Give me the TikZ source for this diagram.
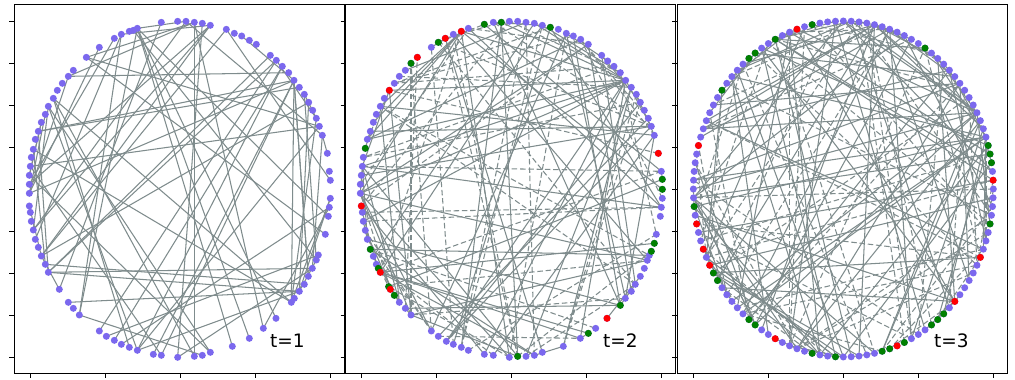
\documentclass[tikz,border=0pt]{standalone}
\usepackage{fontspec}
\setmainfont{DejaVu Sans}
\definecolor{nodeP}{RGB}{123,104,238}
\definecolor{nodeG}{RGB}{0,128,0}
\definecolor{nodeR}{RGB}{255,0,0}
\definecolor{edgec}{RGB}{127,140,141}
\tikzset{
  edgeS/.style={draw=edgec, line width=1.05pt},
  edgeD/.style={draw=edgec, line width=1.05pt, dash pattern=on 5.5pt off 2.8pt},
  dotP/.style={fill=nodeP},
  dotG/.style={fill=nodeG},
  dotR/.style={fill=nodeR},
  axframe/.style={draw=black, line width=0.9pt},
  axtick/.style={draw=black, line width=0.9pt},
  tlabel/.style={font=\fontsize{18.5}{22}\selectfont, anchor=base west, inner sep=0pt}
}
\begin{document}
\begin{tikzpicture}[x=1pt,y=-1pt]
\useasboundingbox (0,0) rectangle (1015,380);
\fill[white] (0,0) rectangle (1015,380);

% ---------- axes frames and ticks ----------
\foreach \k in {0,1,2}{
  \pgfmathsetmacro{\lx}{14+331.5*\k}
  \pgfmathsetmacro{\cx}{180+331.6*\k}
  \draw[axframe] (\lx,4) rectangle ({\lx+330},373);
  \foreach \j in {-4,...,4}{
    \draw[axtick] ({\lx-5},{189+42*\j}) -- (\lx,{189+42*\j});
  }
  \foreach \j in {-2,...,2}{
    \draw[axtick] ({\cx+75*\j},373) -- ({\cx+75*\j},378);
  }
}

% ---------- panel 1 ----------
\begin{scope}[x=0.33333pt,y=-0.33333pt]
\foreach \px/\py [count=\i] in {484/67,533/64,558/64,583/67,607/70,631/76,679/88,703/100,725/108,748/121,769/133,811/166,829/181,847/199,866/218,882/241,898/262,913/283,926/307,938/331,949/355,958/379,967/406,982/460,988/514,991/541,991/595,988/622,985/649,976/703,955/765,949/780,937/805,925/829,913/853,898/874,883/895,874/907,828/955,790/985,748/1015,697/1039,631/1057,607/1066,583/1069,533/1072,484/1066,460/1063,412/1051,388/1042,364/1033,343/1021,319/1009,298/993,238/945,220/925,205/907,178/868,145/817,136/793,124/768,115/742,106/718,100/690,94/664,91/637,88/618,88/580,88/553,88/526,91/499,94/472,100/448,106/418,115/394,124/367,136/343,145/319,160/295,172/271,187/250,205/229,220/211,259/172,298/142,343/115,364/103,388/94,400/91,412/85}{
  \coordinate (a\i) at (\px,\py);
}
\pgfmathsetseed{17}
\pgfmathdeclarerandomlist{hubA}{{3}{4}{23}{22}{61}{68}{16}{38}{90}{59}{70}}
\foreach \k in {1,...,84}{
  \pgfmathrandominteger{\ea}{1}{90}
  \pgfmathrandominteger{\eb}{1}{90}
  \pgfmathrandomitem{\eh}{hubA}
  \pgfmathrandominteger{\es}{1}{10}
  \pgfmathtruncatemacro{\ec}{\es<6 ? \eh : \eb}
  \draw[edgeS] (a\ea) -- (a\ec);
}
\foreach \i in {1,...,90}{
  \fill[dotP] (a\i) circle[radius=3.5pt];
}
\node[tlabel] (lab1) at (810,1044) {t=1};
\end{scope}

% ---------- panel 2 ----------
\begin{scope}[xshift=340pt,x=0.33333pt,y=-0.33333pt]
\foreach \px/\py [count=\i] in {433/73,460/67,484/67,508/64,533/64,558/67,583/70,607/76,631/82,655/88,679/100,700/108,722/118,745/133,785/166,803/183,822/199,841/218,857/241,874/262,889/283,901/307,913/331,925/355,934/379,943/406,955/460,964/514,967/538,967/568,967/595,964/622,961/649,949/703,943/730,934/754,928/766,922/781,913/805,901/829,886/853,874/874,856/895,841/916,801/955,767/985,745/1000,721/1015,670/1039,607/1057,583/1066,558/1069,533/1069,508/1072,460/1066,433/1063,385/1051,364/1042,340/1033,319/1024,295/1009,274/993,213/945,196/925,178/907,146/860,151/868,163/886,115/805,121/817,109/793,100/769,91/748,82/718,76/691,70/664,67/637,64/618,61/580,61/553,64/526,67/499,70/472,76/445,82/418,91/394,100/367,109/343,121/319,133/295,148/271,163/250,178/229,196/211,213/190,232/172,274/142,295/127,316/115,340/103,364/94,385/85}{
  \coordinate (b\i) at (\px,\py);
}
\pgfmathsetseed{29}
\pgfmathdeclarerandomlist{hubB}{{101}{8}{25}{26}{19}{72}{44}{53}{70}{79}}
\foreach \k in {1,...,58}{
  \pgfmathrandominteger{\ea}{1}{102}
  \pgfmathrandominteger{\eb}{1}{102}
  \draw[edgeD] (b\ea) -- (b\eb);
}
\foreach \k in {1,...,86}{
  \pgfmathrandominteger{\ea}{1}{102}
  \pgfmathrandominteger{\eb}{1}{102}
  \pgfmathrandomitem{\eh}{hubB}
  \pgfmathrandominteger{\es}{1}{10}
  \pgfmathtruncatemacro{\ec}{\es<6 ? \eh : \eb}
  \draw[edgeS] (b\ea) -- (b\ec);
}
\foreach \i in {1,...,102}{
  \fill[dotP] (b\i) circle[radius=3.5pt];
}
\foreach \i in {1,3,9,29,30,35,36,44,47,53,66,68,69,73,84,95,98}{
  \fill[dotG] (b\i) circle[radius=3.5pt];
}
\foreach \i in {27,45,67,70,78,91,96,99,101}{
  \fill[dotR] (b\i) circle[radius=3.5pt];
}
\node[tlabel] (lab2) at (789,1044) {t=2};
\end{scope}

% ---------- panel 3 ----------
\begin{scope}[xshift=675pt,x=0.33333pt,y=-0.33333pt]
\foreach \i in {0,...,119}{
  \coordinate (c\i) at ({505+450*cos(3*\i)},{567-504*sin(3*\i)});
}
\pgfmathsetseed{43}
\pgfmathdeclarerandomlist{hubC}{{26}{29}{6}{13}{61}{68}{87}{106}{39}{9}{15}}
\foreach \k in {1,...,72}{
  \pgfmathrandominteger{\ea}{0}{119}
  \pgfmathrandominteger{\eb}{0}{119}
  \draw[edgeD] (c\ea) -- (c\eb);
}
\foreach \k in {1,...,102}{
  \pgfmathrandominteger{\ea}{0}{119}
  \pgfmathrandominteger{\eb}{0}{119}
  \pgfmathrandomitem{\eh}{hubC}
  \pgfmathrandominteger{\es}{1}{10}
  \pgfmathtruncatemacro{\ec}{\es<6 ? \eh : \eb}
  \draw[edgeS] (c\ea) -- (c\ec);
}
\foreach \i in {0,...,119}{
  \fill[dotP] (c\i) circle[radius=3.5pt];
}
\foreach \i in {19,5,4,3,116,104,103,102,98,96,95,89,86,78,77,71,70,62,48,43,42,39,34}{
  \fill[dotG] (c\i) circle[radius=3.5pt];
}
\foreach \i in {1,112,106,97,81,69,67,64,55,36}{
  \fill[dotR] (c\i) circle[radius=3.5pt];
}
\node[tlabel] (lab3) at (777,1044) {t=3};
\end{scope}
\end{tikzpicture}
\end{document}
